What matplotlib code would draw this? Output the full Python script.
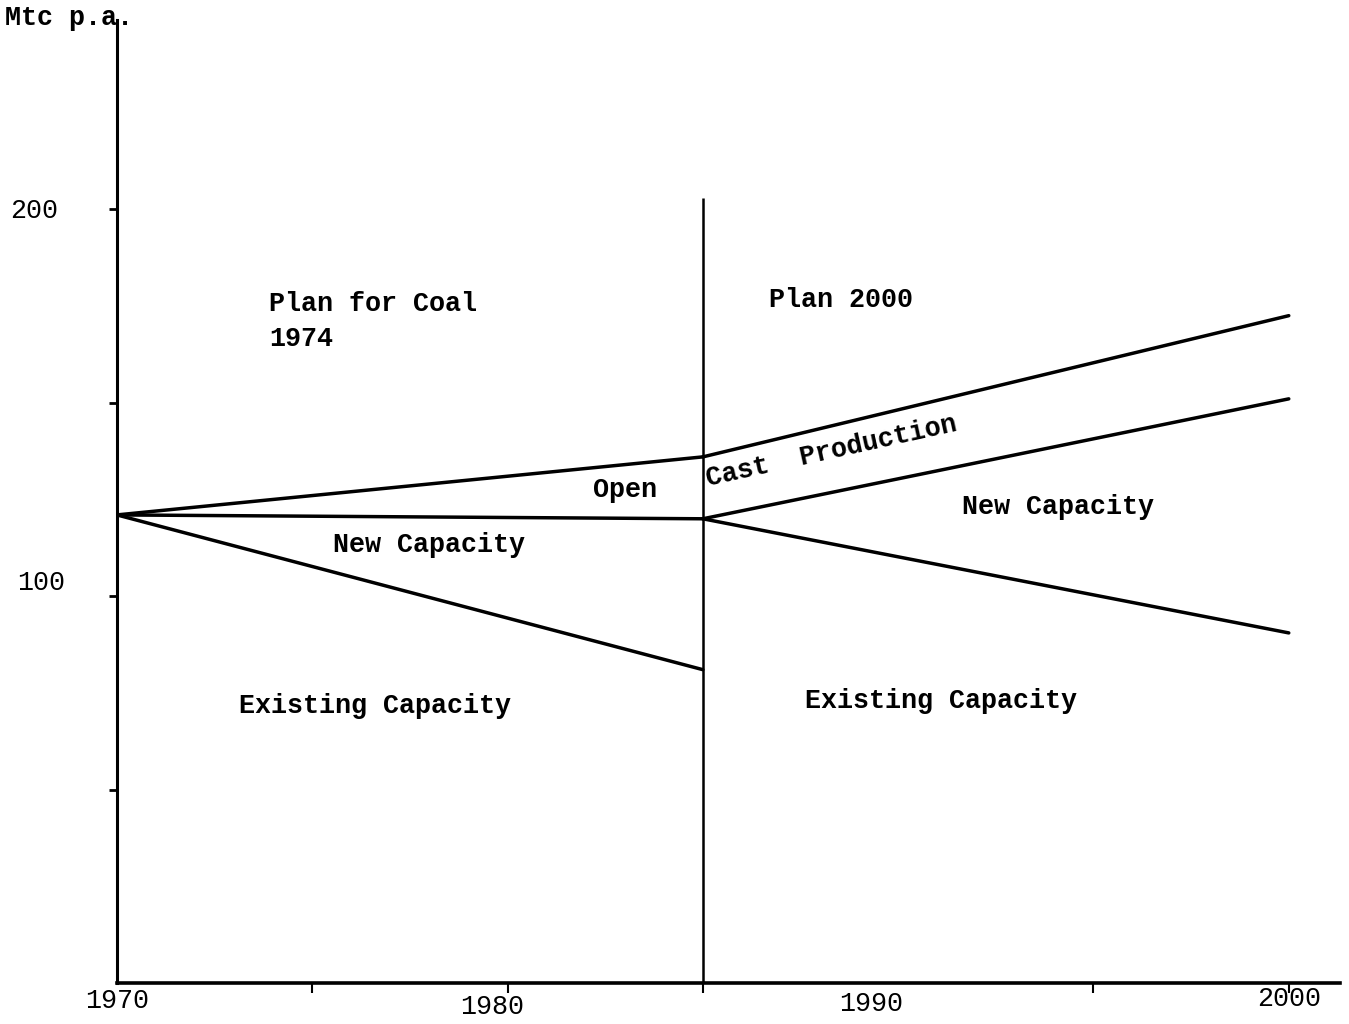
import matplotlib
matplotlib.use("Agg")
import matplotlib.pyplot as plt

# Data (Mtc p.a.)
years_1974 = [1970, 1985]
total_1974 = [121, 136]        # deep-mined + open cast
deep_1974 = [121, 120]         # existing + new capacity
existing_1974 = [121, 81]

years_2000 = [1985, 2000]
total_2000 = [136, 172.5]
deep_2000 = [120, 151]
existing_2000 = [120, 90.5]

divider_year = 1985
divider_top = 203

yticks = [50, 100, 150, 200]
ytick_labels = {200: "200", 100: "100"}
xticks = [1975, 1980, 1985, 1995, 2000]
xlabels = {1970: "1970", 1980: "1980", 1990: "1990", 2000: "2000"}

FONT = "Liberation Mono"
fs = 19.3

fig = plt.figure(figsize=(13.49, 10.24), dpi=100)
ax = fig.add_axes([0.0867, 0.040, 0.9063, 0.940])
ax.set_xlim(1970, 2001.3)
ax.set_ylim(0, 248.8)

lw = 2.5
for x, y in [(years_1974, total_1974), (years_1974, deep_1974), (years_1974, existing_1974),
             (years_2000, total_2000), (years_2000, deep_2000), (years_2000, existing_2000)]:
    ax.plot(x, y, color="black", lw=lw, solid_capstyle="round")

ax.vlines(divider_year, 0, divider_top, color="black", lw=1.8)

for s in ["top", "right"]:
    ax.spines[s].set_visible(False)
ax.spines["left"].set_linewidth(2.2)
ax.spines["bottom"].set_linewidth(2.6)

ax.set_yticks(yticks)
ax.set_yticklabels([])
ax.set_xticks(xticks)
ax.set_xticklabels([])
ax.tick_params(axis="y", direction="out", length=6, width=2)
ax.tick_params(axis="x", direction="out", length=7, width=1.5)

# tick labels as typed text
ax.text(-0.087, 200 - 0.5, ytick_labels[200], transform=ax.get_yaxis_transform(),
        fontsize=fs, family=FONT, ha="left", va="center")
ax.text(-0.082, 100 + 3.5, ytick_labels[100], transform=ax.get_yaxis_transform(),
        fontsize=fs, family=FONT, ha="left", va="center")

xlab_pos = {1970: (1970, -4.6), 1980: (1979.6, -6.3), 1990: (1989.3, -5.3), 2000: (2000, -4.0)}
for yr, lab in xlabels.items():
    px, py = xlab_pos[yr]
    ax.text(px, py, lab, fontsize=fs, family=FONT, ha="center", va="center", clip_on=False)

fig.text(0.004, 0.982, "Mtc p.a.", fontsize=fs, family=FONT, weight="bold", ha="left", va="center")

tkw = dict(fontsize=fs, family=FONT, weight="bold", color="black")
ax.text(1973.9, 171.0, "Plan for Coal\n1974", ha="left", va="center", linespacing=1.45, **tkw)
ax.text(1986.7, 176.5, "Plan 2000", ha="left", va="center", **tkw)
ax.text(1983.0, 127.4, "Open", ha="center", va="center", **tkw)
ax.text(1988.3, 137.5, "Cast  Production", ha="center", va="center", rotation=12.5,
        rotation_mode="anchor", **tkw)
ax.text(1978.0, 113.2, "New Capacity", ha="center", va="center", **tkw)
ax.text(1994.1, 123.0, "New Capacity", ha="center", va="center", **tkw)
ax.text(1976.6, 71.6, "Existing Capacity", ha="center", va="center", **tkw)
ax.text(1991.1, 72.9, "Existing Capacity", ha="center", va="center", **tkw)

fig.savefig("out.png", dpi=100, facecolor="white")
